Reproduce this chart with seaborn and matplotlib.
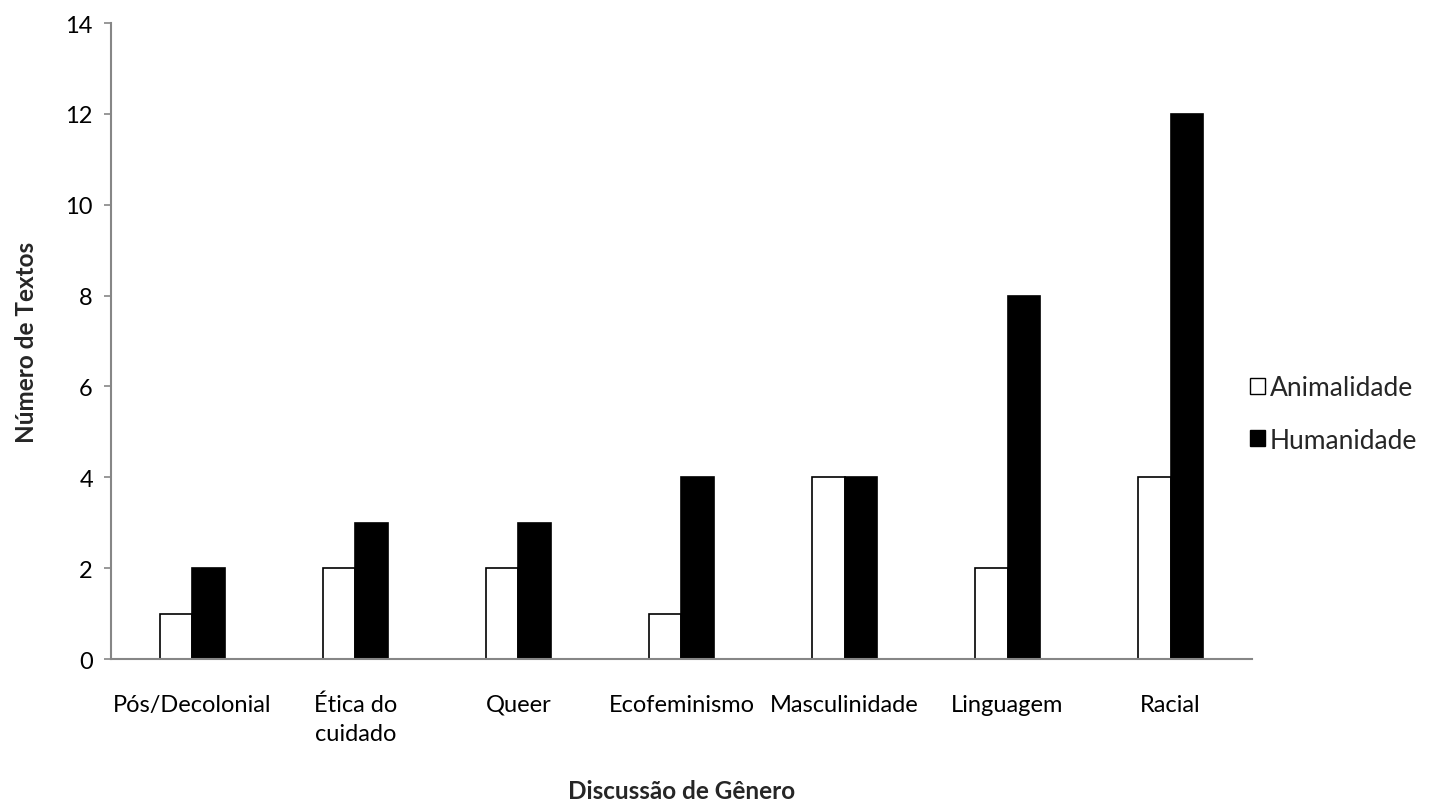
import matplotlib
matplotlib.use("Agg")
import matplotlib.pyplot as plt
import seaborn as sns
import pandas as pd
from matplotlib.patches import Patch

categories = ["Pós/Decolonial", "Ética do\ncuidado", "Queer", "Ecofeminismo",
              "Masculinidade", "Linguagem", "Racial"]
animalidade = [1, 2, 2, 1, 4, 2, 4]
humanidade = [2, 3, 3, 4, 4, 8, 12]
series_names = ["Animalidade", "Humanidade"]
y_ticks = [0, 2, 4, 6, 8, 10, 12, 14]

df = pd.DataFrame({
    "cat": categories * 2,
    "val": animalidade + humanidade,
    "serie": [series_names[0]] * len(categories) + [series_names[1]] * len(categories),
})

sns.set_theme(style="white")
plt.rcParams["font.family"] = ["Lato", "DejaVu Sans"]

fig = plt.figure(figsize=(14.37, 8.04), dpi=100)
ax = fig.add_axes([0.0772, 0.1791, 0.8713 - 0.0772, 0.9701 - 0.1791])

sns.barplot(data=df, x="cat", y="val", hue="serie", palette=["white", "black"],
            edgecolor="black", linewidth=1.2, width=0.4, ax=ax, legend=False,
            saturation=1)

ax.set_ylim(0, 14)
ax.set_yticks(y_ticks)
ax.set_xlim(-0.5, len(categories) - 0.5)
for s in ["top", "right"]:
    ax.spines[s].set_visible(False)
for s in ["left", "bottom"]:
    ax.spines[s].set_color("#868686")
    ax.spines[s].set_linewidth(1.5)

ax.tick_params(axis="y", left=True, length=5, width=1.2, color="#868686",
               pad=8, labelsize=17, labelcolor="black")
ax.tick_params(axis="x", bottom=False, length=0, pad=25, labelsize=17, labelcolor="black")
for lbl in ax.get_xticklabels():
    lbl.set_verticalalignment("top")
    lbl.set_linespacing(1.45)

ax.set_xlabel("Discussão de Gênero", fontsize=17.5, fontweight="bold", labelpad=25)
ax.set_ylabel("Número de Textos", fontsize=17.5, fontweight="bold", labelpad=20)

handles = [Patch(facecolor="white", edgecolor="black", linewidth=1.0),
           Patch(facecolor="black", edgecolor="black", linewidth=1.0)]
fig.legend(handles, series_names, loc="center left", bbox_to_anchor=(0.870, 0.484),
           frameon=False, fontsize=19, handlelength=0.55, handleheight=0.55,
           handletextpad=0.2, labelspacing=1.05, borderpad=0, borderaxespad=0)

fig.savefig("out.png", dpi=100)
